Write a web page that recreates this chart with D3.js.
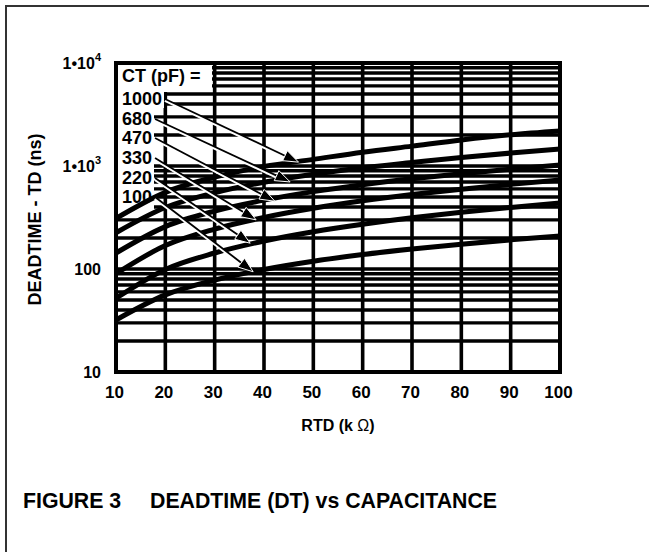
<!DOCTYPE html>
<html>
<head>
<meta charset="utf-8">
<script src="https://cdn.jsdelivr.net/npm/d3@7"></script>
<style>
  body { margin: 0; background: #fff; }
  text { font-family: "Liberation Sans", Arial, sans-serif; font-weight: bold; fill: #000; }
</style>
</head>
<body>
<svg id="chart"></svg>
<script>
// RTD (kOhm) values where the curves were read
const rtd = [10, 20, 30, 40, 50, 60, 70, 80, 90, 100];

// deadtime (ns), one array per CT
const ct1000 = [310, 555, 780, 990, 1160, 1360, 1560, 1790, 2010, 2190];
const ct680 = [225, 395, 550, 695, 830, 960, 1080, 1210, 1335, 1460];
const ct470 = [143, 258, 365, 466, 564, 659, 752, 843, 932, 1020];
const ct330 = [90, 169, 244, 317, 389, 459, 528, 596, 663, 730];
const ct220 = [52, 99, 143, 187, 230, 272, 314, 355, 396, 437];
const ct100 = [32, 56, 78, 99, 119, 138, 156, 174, 192, 209];

const ctLabels = ["1000", "680", "470", "330", "220", "100"];
const ctSeries = [ct1000, ct680, ct470, ct330, ct220, ct100];

// where each arrow points to (RTD, TD)
const arrowR = [47, 45.3, 42.2, 38.4, 37.2, 37.8];
const arrowTD = [1090, 700, 455, 300, 178, 94];

const xTickLabels = ["10", "20", "30", "40", "50", "60", "70", "80", "90", "100"];
const yTickValues = [10, 100, 1000, 10000];

const W = 649, H = 552;
const pLeft = 116, pRight = 560, pTop = 63, pBottom = 372;

const svg = d3.select("#chart").attr("width", W).attr("height", H);
svg.append("rect").attr("width", W).attr("height", H).attr("fill", "#fff");

// page border (left and top only)
svg.append("path")
  .attr("d", `M6,${H} L6,6 L${W},6`)
  .attr("fill", "none").attr("stroke", "#333").attr("stroke-width", 2);

var x = d3.scaleLinear().domain([10, 100]).range([pLeft, pRight]);
var y = d3.scaleLog().domain([10, 10000]).range([pBottom, pTop]);

// grid
var grid = svg.append("g");
grid.selectAll(".hg")
  .data(y.ticks())
  .enter().append("line")
  .attr("x1", pLeft).attr("x2", pRight)
  .attr("y1", d => y(d)).attr("y2", d => y(d))
  .attr("stroke", "#000").attr("stroke-width", 3.4);
grid.selectAll(".vg")
  .data(x.ticks(10))
  .enter().append("line")
  .attr("x1", d => x(d)).attr("x2", d => x(d))
  .attr("y1", pTop).attr("y2", pBottom)
  .attr("stroke", "#000").attr("stroke-width", 3.6);

// legend background
var legendX = pLeft + 6;
var headBase = pTop + 19;
var rowBase = [105, 125, 144, 164, 184, 203];
svg.append("rect").attr("x", pLeft).attr("y", pTop).attr("width", 96).attr("height", 29).attr("fill", "#fff");
svg.append("rect").attr("x", pLeft).attr("y", pTop + 29).attr("width", 38).attr("height", 125).attr("fill", "#fff");
svg.append("rect").attr("x", pLeft).attr("y", 90).attr("width", 48).attr("height", 18).attr("fill", "#fff");

// curves
var line = d3.line()
  .x((d, i) => x(rtd[i]))
  .y(d => y(d))
  .curve(d3.curveMonotoneX);

svg.append("g").selectAll("path")
  .data(ctSeries)
  .enter().append("path")
  .attr("d", line)
  .attr("fill", "none")
  .attr("stroke", "#000")
  .attr("stroke-width", 5);

// frame
svg.append("rect")
  .attr("x", pLeft).attr("y", pTop)
  .attr("width", pRight - pLeft).attr("height", pBottom - pTop)
  .attr("fill", "none").attr("stroke", "#000").attr("stroke-width", 4);

// legend text
svg.append("text").attr("x", legendX).attr("y", headBase).attr("font-size", 18).text("CT (pF) =");
var labels = svg.append("g").selectAll("text")
  .data(ctLabels)
  .enter().append("text")
  .attr("x", legendX)
  .attr("y", (d, i) => rowBase[i])
  .attr("font-size", 18)
  .text(d => d);

// arrows from labels to curves
var arrows = svg.append("g");
labels.each(function (d, i) {
  var bb = this.getBBox();
  var sx = bb.x + bb.width + 3, sy = rowBase[i] - 6;
  var tx = x(arrowR[i]), ty = y(arrowTD[i]);
  var ang = Math.atan2(ty - sy, tx - sx);
  var headLen = 15, headW = 5.5;
  var bx = tx - headLen * Math.cos(ang), by = ty - headLen * Math.sin(ang);
  arrows.append("line")
    .attr("x1", sx).attr("y1", sy + 1.5).attr("x2", bx).attr("y2", by + 1.5)
    .attr("stroke", "#fff").attr("stroke-width", 3);
  arrows.append("line")
    .attr("x1", sx).attr("y1", sy).attr("x2", bx).attr("y2", by)
    .attr("stroke", "#000").attr("stroke-width", 1.8);
  var px = -Math.sin(ang), py = Math.cos(ang);
  arrows.append("path")
    .attr("d", `M${tx},${ty} L${bx + px * headW},${by + py * headW} L${bx - px * headW},${by - py * headW} Z`)
    .attr("fill", "#000").attr("stroke", "#fff").attr("stroke-width", 1);
});

// x axis labels
var xAxis = svg.append("g")
  .attr("transform", "translate(-2," + (pBottom + 11) + ")")
  .call(d3.axisBottom(x).tickValues(rtd).tickSize(0).tickFormat((d, i) => xTickLabels[i]));
xAxis.select(".domain").remove();
xAxis.selectAll("text")
  .attr("font-family", "Liberation Sans, Arial, sans-serif")
  .attr("font-weight", "bold")
  .attr("font-size", 17)
  .attr("fill", "#000");

// y axis labels
var yLab = svg.append("g").selectAll("text")
  .data(yTickValues)
  .enter().append("text")
  .attr("x", pLeft - 15)
  .attr("y", d => y(d) + 6)
  .attr("text-anchor", "end")
  .attr("font-size", 16);
yLab.each(function (d) {
  var t = d3.select(this);
  if (d >= 1000) {
    t.append("tspan").text("1•10");
    t.append("tspan").attr("font-size", 11).attr("dy", -8).text(String(Math.round(Math.log10(d))));
  } else {
    t.text(String(d));
  }
});

// axis titles
svg.append("text")
  .attr("x", (pLeft + pRight) / 2)
  .attr("y", 431)
  .attr("text-anchor", "middle")
  .attr("font-size", 16)
  .html('RTD (k<tspan font-weight="normal"> Ω</tspan>)');

svg.append("text")
  .attr("transform", "translate(41," + ((pTop + pBottom) / 2 + 2) + ") rotate(-90)")
  .attr("text-anchor", "middle")
  .attr("font-size", 18)
  .text("DEADTIME - TD (ns)");

// figure caption
svg.append("text").attr("x", 23).attr("y", 508).attr("font-size", 21.3).text("FIGURE 3");
svg.append("text").attr("x", 150).attr("y", 508).attr("font-size", 21.3).text("DEADTIME (DT) vs CAPACITANCE");
</script>
</body>
</html>
